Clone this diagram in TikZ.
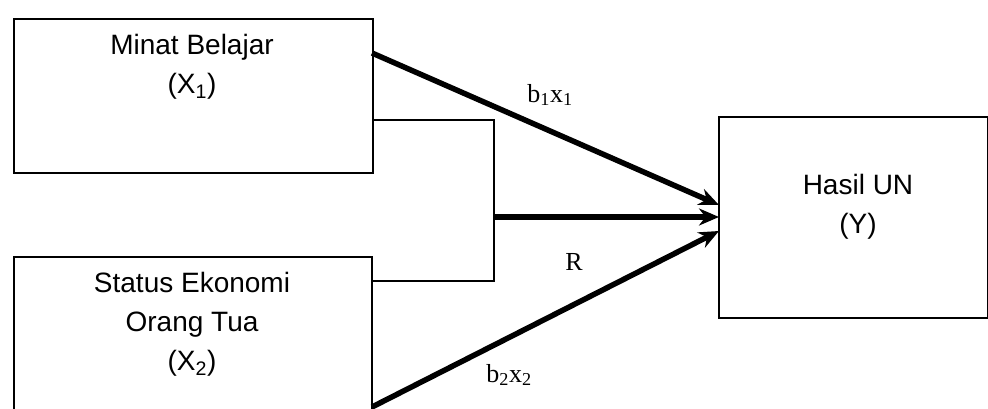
\documentclass[tikz,border=0pt]{standalone}
\usepackage{fontspec}
\setmainfont{Liberation Serif}
\newfontfamily\arialf{Liberation Sans}
\usetikzlibrary{arrows.meta}
\begin{document}
\begin{tikzpicture}[x=1pt,y=-1pt,
  box/.style={draw,line width=1.8pt,inner sep=0pt},
  boxtext/.style={font=\arialf\fontsize{28}{39}\selectfont,align=center,inner sep=0pt},
  lbl/.style={font=\fontsize{26}{30}\selectfont,inner sep=0pt},
  thin/.style={line width=1.8pt},
  arr/.style={line width=5.5pt,-{Stealth[length=20pt,width=17pt]}}]
\useasboundingbox (0,0) rectangle (988,409);
\fill[white] (0,0) rectangle (988,409);
% boxes
\node[box,minimum width=359pt,minimum height=154pt,anchor=north west] (x1) at (13,18) {};
\node[box,minimum width=358pt,minimum height=165pt,anchor=north west] (x2) at (13,256) {};
\node[box,minimum width=269pt,minimum height=201pt,anchor=north west] (y) at (718,116) {};
% box texts
\node[boxtext] (t1) at (192,67) {Minat Belajar\\(X\textsubscript{1})};
\node[boxtext] (t2) at (192,324) {Status Ekonomi\\Orang Tua\\(X\textsubscript{2})};
\node[boxtext] (ty) at (858,207) {Hasil UN\\(Y)};
% bracket
\coordinate (bA) at (372,120);
\coordinate (bB) at (494,120);
\coordinate (bC) at (494,281);
\coordinate (bD) at (372,281);
\coordinate (bM) at (494,217);
\draw[thin] (bA) -- (bB) -- (bC) -- (bD);
% arrow anchors
\coordinate (s1) at (372,53);
\coordinate (s2) at (372,407);
\coordinate (e1) at (719,205);
\coordinate (eR) at (719,217);
\coordinate (e2) at (719,231);
\draw[arr] (s1) -- (e1);
\draw[arr] (bM) -- (eR);
\draw[arr] (s2) -- (e2);
% labels
\node[lbl] (l1) at (550,95) {b\textsubscript{1}x\textsubscript{1}};
\node[lbl] (lR) at (574,262) {R};
\node[lbl] (l2) at (509,375) {b\textsubscript{2}x\textsubscript{2}};
\end{tikzpicture}
\end{document}
